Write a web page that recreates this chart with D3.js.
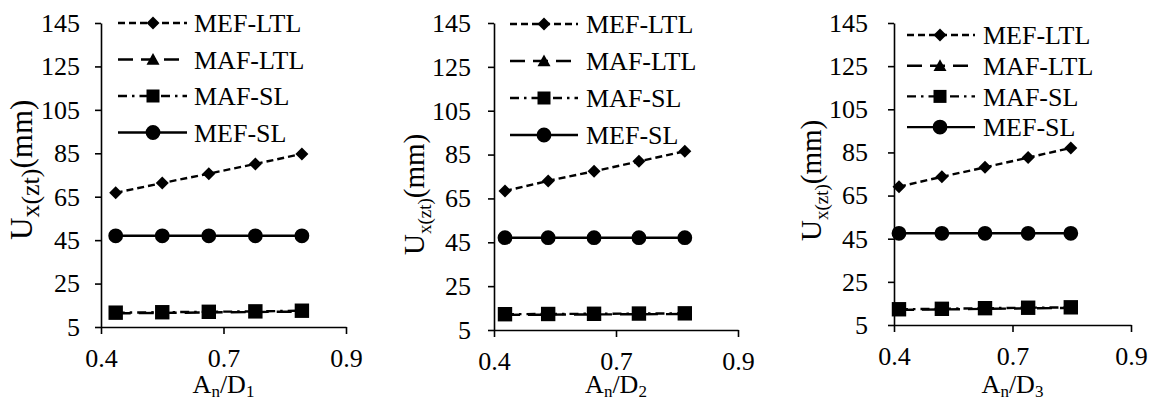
<!DOCTYPE html>
<html>
<head>
<meta charset="utf-8">
<script src="https://cdn.jsdelivr.net/npm/d3@7"></script>
<style>
  body { margin: 0; background: #fff; }
  svg { display: block; }
</style>
</head>
<body>
<svg id="chart" width="1152" height="399"></svg>
<script>
// series names (legend order)
const seriesNames = ['MEF-LTL', 'MAF-LTL', 'MAF-SL', 'MEF-SL'];

// y axis ticks, x axis ticks + their printed labels
const yTicks = [5, 25, 45, 65, 85, 105, 125, 145];
const xTicks = [0.4, 0.65, 0.9];
const xTickLabels = ['0.4', '0.7', '0.9'];

// panel 1: An/D1
const xD1 = [0.43, 0.525, 0.62, 0.715, 0.81];
const mefLtlD1 = [66.8, 71.3, 75.6, 80.1, 84.7];
const mafLtlD1 = [11.3, 11.5, 11.7, 11.9, 12.1];
const mafSlD1 = [11.6, 11.8, 12.0, 12.2, 12.5];
const mefSlD1 = [47.0, 47.0, 47.0, 47.0, 47.0];

// panel 2: An/D2
const xD2 = [0.4225, 0.511, 0.605, 0.697, 0.791];
const mefLtlD2 = [68.4, 73.0, 77.4, 81.9, 86.5];
const mafLtlD2 = [11.9, 12.0, 12.1, 12.2, 12.3];
const mafSlD2 = [12.2, 12.3, 12.4, 12.5, 12.6];
const mefSlD2 = [47.1, 47.1, 47.1, 47.1, 47.1];

// panel 3: An/D3
const xD3 = [0.4105, 0.501, 0.592, 0.683, 0.773];
const mefLtlD3 = [69.1, 73.7, 78.1, 82.6, 87.1];
const mafLtlD3 = [12.0, 12.2, 12.5, 12.7, 12.9];
const mafSlD3 = [12.3, 12.5, 12.8, 13.0, 13.2];
const mefSlD3 = [47.5, 47.5, 47.5, 47.5, 47.5];

const panelSubs = ['1', '2', '3'];
const panelData = [
  { x: xD1, ys: [mefLtlD1, mafLtlD1, mafSlD1, mefSlD1] },
  { x: xD2, ys: [mefLtlD2, mafLtlD2, mafSlD2, mefSlD2] },
  { x: xD3, ys: [mefLtlD3, mafLtlD3, mafSlD3, mefSlD3] }
];

const FONT = "'Liberation Serif', 'Times New Roman', Tinos, 'Nimbus Roman', 'Nimbus Roman No9 L', FreeSerif, 'DejaVu Serif', serif";

// placement of each panel on the page
const layout = [
  { left: 101, right: 346, top: 23, bottom: 327, ylabX: 32, ylabY: 240, mainSize: 31, subSize: 26, yPad: 15,
    leg: { x0: 118, x1: 187, mx: 153, tx: 194, y0: 23, dy: 36.5 } },
  { left: 494, right: 738, top: 23, bottom: 330, ylabX: 424, ylabY: 255, mainSize: 29, subSize: 19, yPad: 17,
    leg: { x0: 510, x1: 578, mx: 544, tx: 586, y0: 24, dy: 37 } },
  { left: 894, right: 1131, top: 23, bottom: 325, ylabX: 821, ylabY: 241, mainSize: 29, subSize: 19, yPad: 20,
    leg: { x0: 907, x1: 975, mx: 940, tx: 983, y0: 35, dy: 30.7 } }
];

// custom marker shapes (size = half-width)
const shapes = {
  diamond: { draw(c, r) { c.moveTo(0, -r); c.lineTo(r, 0); c.lineTo(0, r); c.lineTo(-r, 0); c.closePath(); } },
  triangle: { draw(c, r) { c.moveTo(0, -r); c.lineTo(r, r * 0.8); c.lineTo(-r, r * 0.8); c.closePath(); } },
  square: { draw(c, r) { c.rect(-r, -r, 2 * r, 2 * r); } },
  circle: { draw(c, r) { c.moveTo(r, 0); c.arc(0, 0, r, 0, 2 * Math.PI); } }
};

const styles = [
  { shape: 'diamond', size: 6.5, legSize: 6.5, dash: '7,4' },
  { shape: 'triangle', size: 6.5, legSize: 6.5, dash: '15,8' },
  { shape: 'square', size: 7.2, legSize: 6.5, dash: '9,5,2.5,5' },
  { shape: 'circle', size: 7.4, legSize: 7.4, dash: null }
];

const svg = d3.select('#chart');

panelData.forEach((pd, pi) => {
  const L = layout[pi];
  const x = d3.scaleLinear().domain([0.4, 0.9]).range([L.left, L.right]);
  const y = d3.scaleLinear().domain([5, 145]).range([L.bottom, L.top]);
  const g = svg.append('g').style('font-family', FONT);

  // y axis
  g.append('g')
    .attr('transform', `translate(${L.left},0)`)
    .call(d3.axisLeft(y).tickValues(yTicks).tickSize(6).tickPadding(L.yPad).tickSizeOuter(0))
    .call(a => a.selectAll('line,path').attr('stroke', '#000').attr('stroke-width', 1.6))
    .call(a => a.selectAll('text').attr('fill', '#000').attr('font-size', 26).style('font-family', FONT));

  // x axis
  g.append('g')
    .attr('transform', `translate(0,${L.bottom})`)
    .call(d3.axisBottom(x).tickValues(xTicks).tickSize(7).tickPadding(15).tickSizeOuter(0)
      .tickFormat((d, i) => xTickLabels[i]))
    .call(a => a.selectAll('line,path').attr('stroke', '#000').attr('stroke-width', 1.6))
    .call(a => a.selectAll('text').attr('fill', '#000').attr('font-size', 26).style('font-family', FONT));

  // y title, anchored at the foot of the "U"
  const yt = g.append('text')
    .attr('transform', `translate(${L.ylabX},${L.ylabY}) rotate(-90)`)
    .attr('text-anchor', 'start')
    .style('font-family', FONT)
    .attr('font-size', L.mainSize)
    .attr('fill', '#000');
  yt.append('tspan').text('U');
  yt.append('tspan').attr('font-size', L.subSize).attr('dy', 7).text('x(zt)');
  yt.append('tspan').attr('dy', -7).text('(mm)');

  // x title
  const xt = g.append('text')
    .attr('x', (L.left + L.right) / 2)
    .attr('y', 393)
    .attr('text-anchor', 'middle')
    .style('font-family', FONT)
    .attr('font-size', 26)
    .attr('fill', '#000');
  xt.append('tspan').text('A');
  xt.append('tspan').attr('font-size', 17).attr('dy', 4).text('n');
  xt.append('tspan').attr('dy', -4).text('/D');
  xt.append('tspan').attr('font-size', 17).attr('dy', 4).text(panelSubs[pi]);

  // series lines + markers (MAF-LTL before MAF-SL so the squares sit on top)
  const order = [3, 0, 1, 2];
  order.forEach(si => {
    const st = styles[si];
    const pts = pd.x.map((xv, k) => [xv, pd.ys[si][k]]);
    g.append('path')
      .datum(pts)
      .attr('fill', 'none')
      .attr('stroke', '#000')
      .attr('stroke-width', 2.4)
      .attr('stroke-dasharray', st.dash)
      .attr('d', d3.line().x(d => x(d[0])).y(d => y(d[1])));
    g.selectAll(null)
      .data(pts)
      .join('path')
      .attr('transform', d => `translate(${x(d[0])},${y(d[1])})`)
      .attr('d', d3.symbol(shapes[st.shape], st.size)())
      .attr('fill', '#000');
  });

  // legend
  const leg = g.append('g');
  seriesNames.forEach((name, si) => {
    const st = styles[si];
    const ry = L.leg.y0 + si * L.leg.dy;
    leg.append('line')
      .attr('x1', L.leg.x0).attr('x2', L.leg.x1)
      .attr('y1', ry).attr('y2', ry)
      .attr('stroke', '#000').attr('stroke-width', 2.4)
      .attr('stroke-dasharray', st.dash);
    leg.append('path')
      .attr('transform', `translate(${L.leg.mx},${ry})`)
      .attr('d', d3.symbol(shapes[st.shape], st.legSize)())
      .attr('fill', '#000');
    leg.append('text')
      .attr('x', L.leg.tx).attr('y', ry).attr('dy', '0.35em')
      .style('font-family', FONT)
      .attr('font-size', 26).attr('fill', '#000')
      .text(name);
  });
});
</script>
</body>
</html>
